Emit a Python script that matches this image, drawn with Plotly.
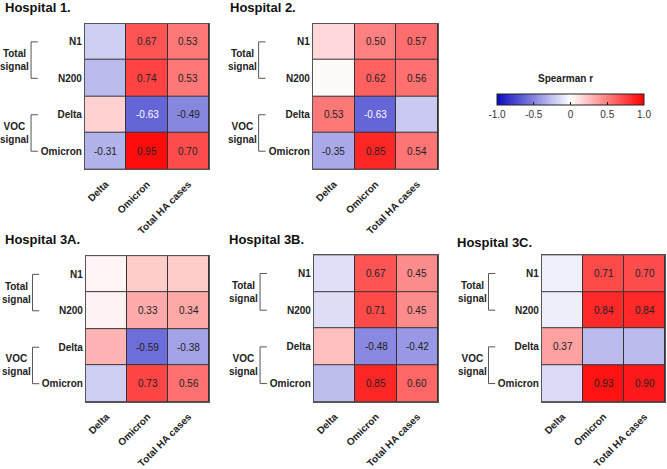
import plotly.graph_objects as go

# ---------------- data ----------------
row_labels = ["N1", "N200", "Delta", "Omicron"]
col_labels = ["Delta", "Omicron", "Total HA cases"]
panel_titles = ["Hospital 1.", "Hospital 2.", "Hospital 3A.", "Hospital 3B.", "Hospital 3C."]

# Spearman r (rows: N1, N200, Delta, Omicron ; cols: Delta, Omicron, Total HA cases)
h1_values = [[-0.20, 0.67, 0.53],
             [-0.28, 0.74, 0.53],
             [0.18, -0.63, -0.49],
             [-0.31, 0.95, 0.70]]
h1_sig = [[0, 1, 1], [0, 1, 1], [0, 1, 1], [1, 1, 1]]

h2_values = [[0.15, 0.50, 0.57],
             [0.02, 0.62, 0.56],
             [0.53, -0.63, -0.22],
             [-0.35, 0.85, 0.54]]
h2_sig = [[0, 1, 1], [0, 1, 1], [1, 1, 0], [1, 1, 1]]

h3a_values = [[0.04, 0.20, 0.20],
              [0.05, 0.33, 0.34],
              [0.30, -0.59, -0.38],
              [-0.20, 0.73, 0.56]]
h3a_sig = [[0, 0, 0], [0, 1, 1], [0, 1, 1], [0, 1, 1]]

h3b_values = [[-0.13, 0.67, 0.45],
              [-0.14, 0.71, 0.45],
              [0.25, -0.48, -0.42],
              [-0.27, 0.85, 0.60]]
h3b_sig = [[0, 1, 1], [0, 1, 1], [0, 1, 1], [0, 1, 1]]

h3c_values = [[-0.06, 0.71, 0.70],
              [-0.07, 0.84, 0.84],
              [0.37, -0.28, -0.28],
              [-0.15, 0.93, 0.90]]
h3c_sig = [[0, 1, 1], [0, 1, 1], [1, 0, 0], [0, 1, 1]]

cbar_title = "Spearman r"
cbar_ticks = [-1.0, -0.5, 0, 0.5, 1.0]
cbar_ticktext = ["-1.0", "-0.5", "0", "0.5", "1.0"]

panels_values = [h1_values, h2_values, h3a_values, h3b_values, h3c_values]
panels_sig = [h1_sig, h2_sig, h3a_sig, h3b_sig, h3c_sig]

# ---------------- layout geometry ----------------
W, H = 667, 469
FONT = "Liberation Sans, Arial, sans-serif"

def xd(a, b):
    return [a / W, b / W]

def yd(top, bottom):
    return [1 - bottom / H, 1 - top / H]

domains = [
    (xd(85, 209), yd(24, 172)),
    (xd(313, 438), yd(24, 172)),
    (xd(86, 209), yd(260, 408)),
    (xd(314, 438), yd(259, 408)),
    (xd(542, 665), yd(259, 408)),
]
title_pos = [(3, 8), (228, 8), (3, 243), (227, 243), (455, 246)]

fig = go.Figure()
annotations = []
shapes = []

for i, (vals, sig) in enumerate(zip(panels_values, panels_sig)):
    n = "" if i == 0 else str(i + 1)
    xa, ya = "x" + n, "y" + n
    fig.add_trace(go.Heatmap(
        z=vals, x=col_labels, y=row_labels,
        coloraxis="coloraxis", xgap=1, ygap=1,
        xaxis=xa, yaxis=ya, hoverinfo="z",
    ))
    (xdom, ydom) = domains[i]
    axis_common = dict(showgrid=False, zeroline=False, showline=True, mirror=True,
                       linecolor="#555", linewidth=1.2, ticks="",
                       tickfont=dict(family=FONT, size=10, color="#222", weight="bold"))
    fig.layout["xaxis" + n] = dict(domain=xdom, anchor=ya, tickangle=-45,
                                   ticklabelstandoff=4, **axis_common)
    fig.layout["yaxis" + n] = dict(domain=ydom, anchor=xa, autorange="reversed",
                                   ticklabelstandoff=0, **axis_common)
    # cell values
    for r, rl in enumerate(row_labels):
        for c, cl in enumerate(col_labels):
            if sig[r][c]:
                v = vals[r][c]
                annotations.append(dict(
                    x=cl, y=rl, xref=xa, yref=ya, text=f"{v:.2f}", showarrow=False,
                    font=dict(family=FONT, size=10, color="white" if v < -0.6 else "#222")))
    # group brackets & labels
    for (y0, y1, label) in [(0, 1, "Total<br>signal"), (2, 3, "VOC<br>signal")]:
        xr = xa + " domain"
        shapes.append(dict(type="line", xref=xr, yref=ya, x0=-0.435, x1=-0.435, y0=y0, y1=y1,
                           line=dict(color="#555", width=1)))
        for yy in (y0, y1):
            shapes.append(dict(type="line", xref=xr, yref=ya, x0=-0.435, x1=-0.38, y0=yy, y1=yy,
                               line=dict(color="#555", width=1)))
        annotations.append(dict(x=-0.565, y=(y0 + y1) / 2, xref=xr, yref=ya, text=label,
                                showarrow=False, xanchor="center", yanchor="middle",
                                font=dict(family=FONT, size=10, color="#222", weight="bold")))
    tx, ty = title_pos[i]
    annotations.append(dict(x=tx / W, y=1 - ty / H, xref="paper", yref="paper",
                            text=panel_titles[i], showarrow=False, xanchor="left", yanchor="middle",
                            font=dict(family=FONT, size=13, color="#111", weight="bold")))

# colorbar title
annotations.append(dict(x=565 / W, y=1 - 80 / H, xref="paper", yref="paper", text=cbar_title,
                        showarrow=False, xanchor="center", yanchor="middle",
                        font=dict(family=FONT, size=10, color="#222", weight="bold")))

fig.update_layout(
    width=W, height=H,
    margin=dict(l=0, r=0, t=0, b=0),
    paper_bgcolor="white", plot_bgcolor="#333",
    showlegend=False,
    coloraxis=dict(
        cmin=-1, cmax=1,
        colorscale=[[0, "#0a0ac0"], [0.5, "#ffffff"], [1, "#ff0000"]],
        colorbar=dict(
            orientation="h", x=570.5 / W, xanchor="center",
            y=1 - 95 / H, yanchor="top",
            len=147 / W, lenmode="fraction", thickness=11,
            xpad=0, ypad=0,
            outlinewidth=1, outlinecolor="#222",
            tickvals=cbar_ticks, ticktext=cbar_ticktext,
            ticks="inside", ticklen=3, tickcolor="#222",
            tickfont=dict(family=FONT, size=10, color="#333"),
        ),
    ),
    annotations=annotations,
    shapes=shapes,
)

fig.write_html("out.html", config={"displayModeBar": False},
               post_script="document.body.style.margin='0';")
